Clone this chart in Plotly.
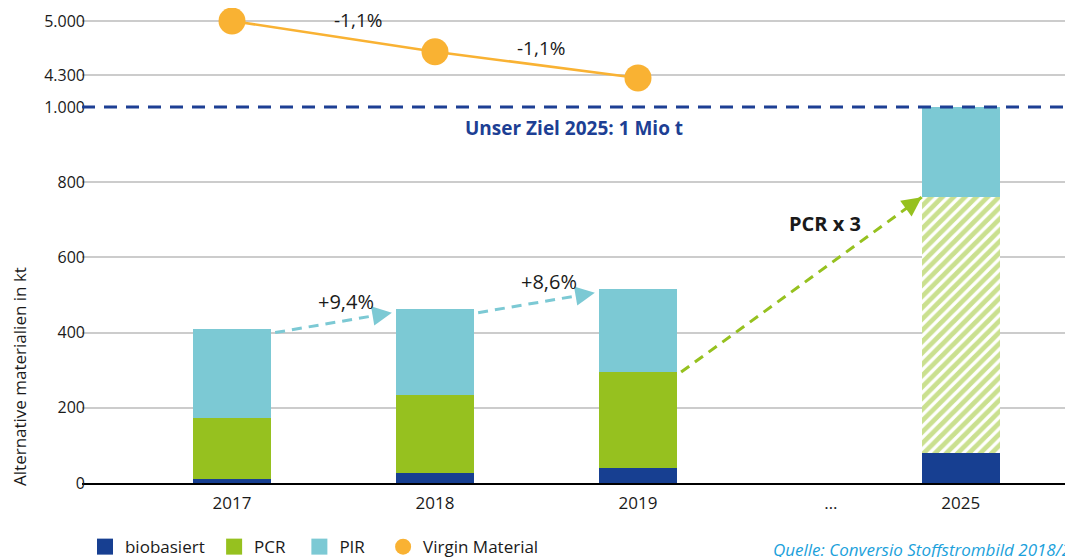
import plotly.graph_objects as go

# ---- data -------------------------------------------------------------
YEARS = ["2017", "2018", "2019", "2025"]
BIOBASIERT = [10, 27, 40, 80]
PCR = [163, 207, 255, 680]
PIR = [237, 229, 221, 240]

VIRGIN_YEARS = ["2017", "2018", "2019"]
VIRGIN = [5000, 4602, 4262]

GROWTH_LABELS = ["+9,4%", "+8,6%"]
VIRGIN_LABELS = ["-1,1%", "-1,1%"]
TARGET = 1000

TICK_LABELS = ["2017", "2018", "2019", "…", "2025"]
Y_TICKS = [0, 200, 400, 600, 800, 1000]
Y_TICKTEXT = ["0", "200", "400", "600", "800", "1.000"]
Y2_TICKS = [4300, 5000]
Y2_TICKTEXT = ["4.300", "5.000"]

# ---- layout helpers ---------------------------------------------------
SLOT = {"2017": 0, "2018": 1, "2019": 2, "…": 2.95, "2025": 3.59}
BAR_W = 0.385
Y_DOMAIN_TOP = 0.7916
Y_RANGE = [0, 1000]

C = {
    "bio": "#173f91",
    "pcr": "#96c11f",
    "pir": "#7cc9d4",
    "virgin": "#f9b233",
    "target": "#1d3f94",
    "grid": "#cccccc",
    "text": "#1a1a1a",
    "source": "#1ba1db",
}
FONT = "Open Sans, sans-serif"
NB = "\u00a0"

xs = [SLOT[y] for y in YEARS]
xv = [SLOT[y] for y in VIRGIN_YEARS]
totals = [b + p + r for b, p, r in zip(BIOBASIERT, PCR, PIR)]
pcr_top = [b + p for b, p in zip(BIOBASIERT, PCR)]

fig = go.Figure()

fig.add_trace(go.Bar(x=xs, y=BIOBASIERT, width=BAR_W, marker_color=C["bio"],
                     marker_line_width=0, showlegend=False))
fig.add_trace(go.Bar(
    x=xs, y=PCR, width=BAR_W, showlegend=False,
    marker=dict(color=C["pcr"], line_width=0,
                pattern=dict(shape=["", "", "", "/"], fgcolor=C["pcr"],
                             bgcolor="white", size=8, solidity=0.6)),
))
fig.add_trace(go.Bar(x=xs, y=PIR, width=BAR_W, marker_color=C["pir"],
                     marker_line_width=0, showlegend=False))

fig.add_trace(go.Scatter(
    x=xv, y=VIRGIN, yaxis="y2", mode="lines+markers", showlegend=False,
    line=dict(color=C["virgin"], width=2.5),
    marker=dict(color=C["virgin"], size=27), cliponaxis=False,
))

# legend-only entries (larger swatches)
for name, col, sym in [("biobasiert" + NB, C["bio"], "square"),
                       ("PCR" + NB * 2, C["pcr"], "square"),
                       ("PIR" + NB * 3, C["pir"], "square"),
                       ("Virgin Material", C["virgin"], "circle")]:
    fig.add_trace(go.Scatter(x=[None], y=[None], mode="markers", name=name,
                             marker=dict(color=col, size=20, symbol=sym)))

# target line (paper ref so it is not clipped at the domain edge)
target_paper = Y_DOMAIN_TOP * (TARGET - Y_RANGE[0]) / (Y_RANGE[1] - Y_RANGE[0])
fig.add_shape(type="line", xref="paper", yref="paper", x0=0, x1=1,
              y0=target_paper, y1=target_paper,
              line=dict(color=C["target"], width=3, dash="13px,9px"), layer="above")


def dashed_arrow(x0, y0, x1, y1, color):
    fig.add_shape(type="line", xref="x", yref="y", x0=x0, y0=y0, x1=x1, y1=y1,
                  line=dict(color=color, width=3, dash="10px,7px"), layer="above")
    t = 0.94
    fig.add_annotation(x=x1, y=y1, ax=x0 + (x1 - x0) * t, ay=y0 + (y1 - y0) * t,
                       xref="x", yref="y", axref="x", ayref="y", text="",
                       showarrow=True, arrowhead=2, arrowsize=1.3, arrowwidth=3,
                       arrowcolor=color, standoff=0)


gap = 0.02
for i, lab in enumerate(GROWTH_LABELS):
    sx, sy = xs[i] + BAR_W / 2 + gap, totals[i] - 10
    ex, ey = xs[i + 1] - BAR_W / 2 - gap, totals[i + 1] - 10
    dashed_arrow(sx, sy, ex, ey, C["pir"])
    fig.add_annotation(x=(sx + ex) / 2, y=(sy + ey) / 2, text=lab, showarrow=False,
                       xshift=12, yshift=21, font=dict(size=20, color=C["text"]))

sx, sy = xs[2] + BAR_W / 2 + gap, pcr_top[2]
ex, ey = xs[3] - BAR_W / 2, pcr_top[3]
dashed_arrow(sx, sy, ex, ey, C["pcr"])
fig.add_annotation(x=(sx + ex) / 2, y=(sy + ey) / 2, text="<b>PCR x 3</b>", showarrow=False,
                   xshift=24, yshift=61, font=dict(size=20, color=C["text"]))

for i, lab in enumerate(VIRGIN_LABELS):
    fig.add_annotation(x=(xv[i] + xv[i + 1]) / 2, y=(VIRGIN[i] + VIRGIN[i + 1]) / 2,
                       yref="y2", text=lab, showarrow=False,
                       xshift=[24, 4][i], yshift=[16, 17][i],
                       font=dict(size=19, color=C["text"]))

fig.add_annotation(xref="paper", yref="paper", x=0.4965, y=0.747,
                   xanchor="center", yanchor="middle",
                   text="<b>Unser Ziel 2025: 1 Mio t</b>", showarrow=False,
                   font=dict(size=19, color=C["target"]))
fig.add_annotation(xref="paper", yref="paper", x=-0.0626, y=0.2253, textangle=-90,
                   xanchor="center", yanchor="middle", borderpad=0,
                   text="Alternative materialien in kt", showarrow=False,
                   font=dict(size=17, color=C["text"]))
fig.add_annotation(xref="paper", yref="paper", x=0.695, y=-0.139,
                   xanchor="left", yanchor="middle",
                   text="<i>Quelle: Conversio Stoffstrombild 2018/2019</i>", showarrow=False,
                   font=dict(size=17, color=C["source"]))

# page body adds an 8px offset, so the figure is 8px smaller than the window
fig.update_layout(
    width=1065, height=549, autosize=False,
    margin=dict(l=74, r=0, t=0, b=74, autoexpand=False),
    paper_bgcolor="white", plot_bgcolor="white",
    font=dict(family=FONT, size=17, color=C["text"]),
    barmode="stack", bargap=0,
    xaxis=dict(range=[-0.739, 4.143], tickmode="array",
               tickvals=[SLOT[t] for t in TICK_LABELS], ticktext=TICK_LABELS,
               showgrid=False, zeroline=False, showline=True, linecolor="black",
               linewidth=2, ticks="", ticklabelstandoff=4, fixedrange=True),
    yaxis=dict(domain=[0, Y_DOMAIN_TOP], range=Y_RANGE, tickmode="array",
               tickvals=Y_TICKS, ticktext=Y_TICKTEXT, showgrid=True,
               gridcolor=C["grid"], gridwidth=1.5, zeroline=False, ticks="",
               ticklabelstandoff=-4, tickfont=dict(size=16)),
    yaxis2=dict(domain=[0.8274, 1], range=[4105.6, 5168.5], tickmode="array",
                tickvals=Y2_TICKS, ticktext=Y2_TICKTEXT, showgrid=True,
                gridcolor=C["grid"], gridwidth=1.5, zeroline=False, ticks="",
                ticklabelstandoff=-4, anchor="x", tickfont=dict(size=16)),
    legend=dict(orientation="h", x=0.003, y=-0.097, xanchor="left", yanchor="top",
                font=dict(size=17), traceorder="normal", itemwidth=30,
                bgcolor="rgba(0,0,0,0)"),
)

fig.write_html("out.html")
